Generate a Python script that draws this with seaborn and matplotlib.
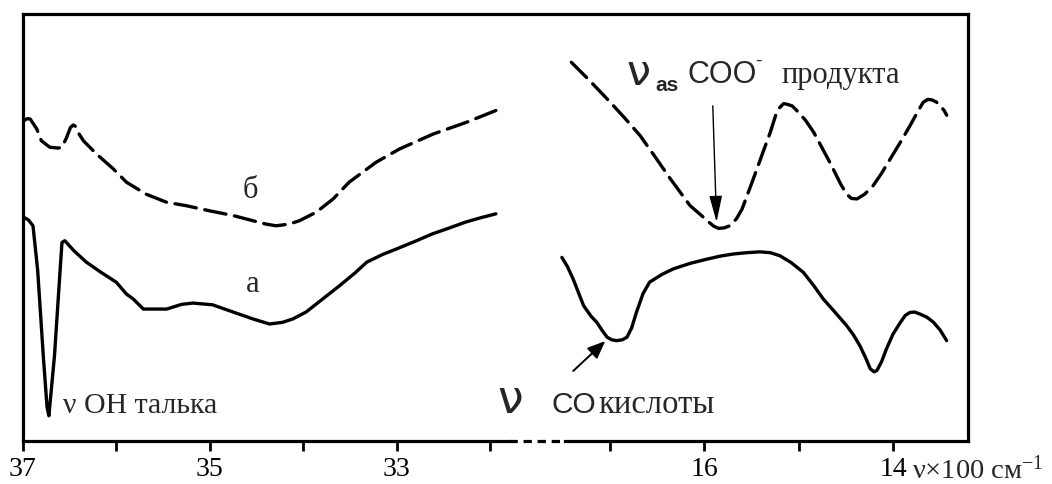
import matplotlib
matplotlib.use("Agg")
import matplotlib.pyplot as plt
import seaborn as sns

# ---- data (wavenumber in 100 cm^-1, arbitrary transmittance units) ----
left_a_x = [36.99, 36.94, 36.89, 36.84, 36.78, 36.74, 36.72, 36.66, 36.60, 36.58, 36.55, 36.45, 36.32,
            36.17, 36.00, 35.89, 35.82, 35.71, 35.60, 35.46, 35.30, 35.18, 34.97, 34.75, 34.54, 34.36,
            34.22, 34.11, 33.97, 33.79, 33.61, 33.45, 33.32, 33.15, 33.00, 32.80, 32.62, 32.45, 32.26,
            32.10, 31.94]
left_a_y = [52.4, 51.8, 50.4, 40.0, 20.0, 8.0, 5.9, 20.0, 40.0, 46.5, 46.9, 44.5, 41.9,
            39.6, 37.2, 34.4, 33.3, 30.9, 30.9, 30.9, 32.0, 32.3, 31.9, 30.2, 28.6, 27.4,
            27.8, 28.6, 30.2, 33.3, 36.4, 39.3, 41.9, 43.7, 45.0, 46.8, 48.5, 49.8, 51.3,
            52.3, 53.2]

left_b_x = [36.99, 36.95, 36.92, 36.85, 36.80, 36.71, 36.62, 36.58, 36.53, 36.49, 36.46, 36.44, 36.40,
            36.35, 36.21, 36.03, 35.89, 35.68, 35.46, 35.25, 35.00, 34.75, 34.54, 34.40, 34.29,
            34.15, 34.04, 33.86, 33.68, 33.51, 33.35, 33.22, 32.97, 32.61, 32.26, 31.94]
left_b_y = [75.0, 75.5, 75.4, 73.1, 70.3, 68.8, 68.6, 68.8, 71.1, 73.4, 74.0, 73.8, 72.0,
            70.3, 67.2, 63.7, 60.6, 57.8, 55.9, 55.1, 53.9, 52.8, 51.6, 50.8, 50.4,
            50.8, 51.6, 53.6, 56.7, 60.6, 63.2, 65.3, 68.4, 71.9, 74.6, 77.4]

right_b_x = [17.41, 17.22, 17.03, 16.85, 16.68, 16.52, 16.36, 16.15, 16.04, 15.97, 15.90, 15.85, 15.79,
             15.73, 15.66, 15.60, 15.48, 15.38, 15.30, 15.24, 15.20, 15.16, 15.13, 15.07, 15.02,
             14.93, 14.84, 14.67, 14.55, 14.49, 14.44, 14.38, 14.30, 14.21, 14.12, 14.03, 13.92,
             13.82, 13.74, 13.68, 13.63, 13.59, 13.54, 13.50, 13.46, 13.43]
right_b_y = [88.7, 84.5, 80.1, 75.8, 71.5, 66.5, 61.4, 55.1, 53.0, 51.6, 50.3, 49.8, 49.9,
             50.4, 52.0, 54.3, 61.4, 67.5, 72.3, 76.5, 78.1, 79.0, 78.9, 78.5, 77.4,
             75.2, 72.3, 65.3, 60.0, 57.8, 56.8, 56.7, 57.8, 59.8, 62.7, 66.0, 70.0,
             73.8, 77.0, 79.3, 80.0, 79.9, 79.4, 78.5, 77.5, 76.3]

right_a_x = [17.51, 17.45, 17.39, 17.28, 17.20, 17.14, 17.08, 17.03, 16.98, 16.93, 16.87, 16.82, 16.77,
             16.72, 16.65, 16.58, 16.45, 16.33, 16.15, 15.97, 15.83, 15.69, 15.55, 15.41, 15.30,
             15.20, 15.08, 14.95, 14.84, 14.74, 14.60, 14.49, 14.42, 14.35, 14.29, 14.24, 14.20,
             14.17, 14.12, 14.07, 14.00, 13.92, 13.87, 13.82, 13.77, 13.71, 13.64, 13.57, 13.50,
             13.43]
right_a_y = [43.0, 40.8, 37.9, 31.7, 29.2, 27.8, 25.8, 24.3, 23.7, 23.5, 23.7, 24.3, 26.5,
             30.1, 34.5, 37.2, 39.0, 40.3, 41.6, 42.6, 43.3, 43.8, 44.1, 44.3, 44.1,
             43.4, 41.8, 39.5, 36.4, 33.3, 29.8, 27.0, 24.9, 22.3, 19.5, 16.9, 16.2,
             16.5, 18.6, 21.5, 25.0, 27.8, 29.4, 30.1, 30.2, 29.7, 29.0, 27.8, 26.0,
             23.5]

left_ticks = [37, 36, 35, 34, 33, 32]
left_ticklabels = ["37", "", "35", "", "33", ""]
right_ticks = [17, 16, 15, 14]
right_ticklabels = ["", "16", "", "14"]

# ---- style ----
sns.set_theme(style="white")
plt.rcParams["font.family"] = ["Liberation Serif", "DejaVu Serif"]
plt.rcParams["mathtext.fontset"] = "custom"
plt.rcParams["mathtext.rm"] = "Liberation Serif"
plt.rcParams["mathtext.it"] = "Liberation Serif:italic"

W, H = 1052, 485
fig = plt.figure(figsize=(W / 100, H / 100), dpi=100)

def px_rect(x0, x1, y_top, y_bot):
    return [x0 / W, 1 - y_bot / H, (x1 - x0) / W, (y_bot - y_top) / H]

SPW = 2.3   # spine width (pt)
LW = 2.4    # curve width (pt)

# frame axes
frame = fig.add_axes(px_rect(22.7, 968, 15, 442))
frame.set_xlim(0, 1)
frame.set_ylim(0, 1)
frame.set_xticks([])
frame.set_yticks([])
for s in ["top", "left", "right"]:
    frame.spines[s].set_linewidth(SPW)
    frame.spines[s].set_color("black")
frame.spines["bottom"].set_visible(False)
gx0 = (509 - 22.7) / (968 - 22.7)
gx1 = (565 - 22.7) / (968 - 22.7)
frame.plot([gx0, gx1], [0, 0], color="black", lw=SPW, dashes=(2.6, 1.8),
           clip_on=False, solid_capstyle="butt")
frame.patch.set_alpha(0)

# left data axes
axL = fig.add_axes(px_rect(22.7, 509, 15, 442))
# right data axes
axR = fig.add_axes(px_rect(555, 968, 15, 442))

for ax in (axL, axR):
    ax.patch.set_alpha(0)

# curves
sns.lineplot(x=left_a_x, y=left_a_y, ax=axL, color="black", lw=LW, sort=False, estimator=None)
sns.lineplot(x=left_b_x, y=left_b_y, ax=axL, color="black", lw=LW, sort=False, estimator=None)
axL.lines[-1].set_dashes((6.5, 2.6))
sns.lineplot(x=right_a_x, y=right_a_y, ax=axR, color="black", lw=LW, sort=False, estimator=None)
sns.lineplot(x=right_b_x, y=right_b_y, ax=axR, color="black", lw=LW, sort=False, estimator=None)
axR.lines[-1].set_dashes((6.5, 2.6))
for ax in (axL, axR):
    for ln in ax.lines:
        ln.set_solid_joinstyle("round")
        ln.set_solid_capstyle("round")
        ln.set_dash_capstyle("round")
        ln.set_dash_joinstyle("round")

axL.set_xlim(37, 31.80)
axR.set_xlim(17.583, 13.204)
for ax in (axL, axR):
    ax.set_ylim(0, 100)
    ax.set_yticks([])
    for s in ["top", "left", "right"]:
        ax.spines[s].set_visible(False)
    ax.spines["bottom"].set_linewidth(SPW)
    ax.spines["bottom"].set_color("black")
    ax.tick_params(axis="x", direction="out", length=7.5, width=2.0, colors="black",
                   labelsize=20, pad=3.5, bottom=True)
    ax.set_xlabel("")
    ax.set_ylabel("")

axR.spines["bottom"].set_bounds(17.48, 13.204)
axL.set_xticks(left_ticks)
axL.set_xticklabels(left_ticklabels)
axR.set_xticks(right_ticks)
axR.set_xticklabels(right_ticklabels)

# labels on left
axL.text(34.57, 59.0, "б", ha="center", va="center", fontsize=22)
axL.text(34.54, 36.8, "а", ha="center", va="center", fontsize=22)
axL.text(36.57, 6.8, "ν OH талька", ha="left", va="baseline", fontsize=21.5)

# labels on right (top)
axR.text(16.70, 83.6, "ν", ha="center", va="baseline", fontsize=31, family="DejaVu Sans")
axR.text(16.52, 82.3, "as", ha="left", va="baseline", fontsize=15, family="Liberation Sans",
         fontweight="bold")
axR.text(16.18, 84.1, "COO", ha="left", va="baseline", fontsize=22, family="Liberation Sans")
axR.text(15.46, 88.0, "-", ha="left", va="baseline", fontsize=14, family="Liberation Sans")
axR.text(15.18, 84.1, "продукта", ha="left", va="baseline", fontsize=22)
axR.annotate("", xy=(15.87, 51.3), xytext=(15.91, 78.5),
             arrowprops=dict(arrowstyle="-|>,head_length=0.9,head_width=0.22", color="black",
                             lw=1.0, mutation_scale=18, shrinkA=0, shrinkB=0))

# labels on right (bottom)
axR.text(18.06, 6.8, "ν", ha="center", va="baseline", fontsize=33, family="DejaVu Sans",
         clip_on=False)
axR.text(17.62, 6.8, "CO", ha="left", va="baseline", fontsize=21.5, family="Liberation Sans")
axR.text(17.12, 6.8, "кислоты", ha="left", va="baseline", fontsize=23.5)
axR.annotate("", xy=(17.05, 23.4), xytext=(17.39, 16.4),
             arrowprops=dict(arrowstyle="-|>,head_length=0.6,head_width=0.25", color="black",
                             lw=1.4, mutation_scale=18, shrinkA=0, shrinkB=0))

# axis unit label
fig.text(912 / W, 1 - 479 / H, r"ν×100 см$^{\mathrm{-1}}$", ha="left", va="baseline",
         fontsize=20.5)

fig.savefig("out.png", dpi=100)
